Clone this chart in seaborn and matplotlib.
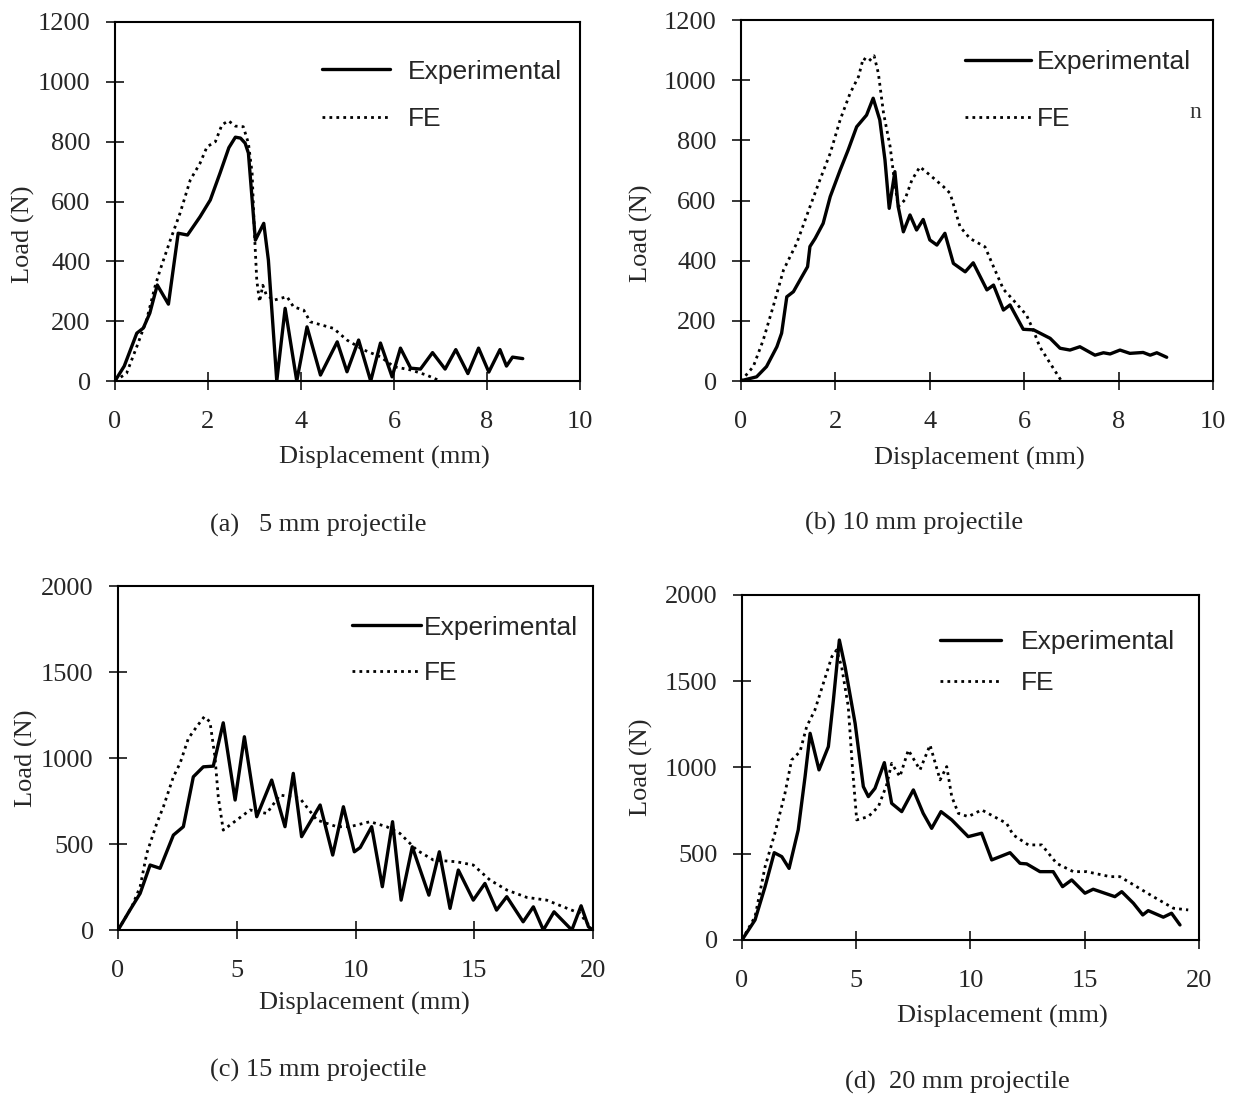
import numpy as np
import pandas as pd
import matplotlib
matplotlib.use("Agg")
import matplotlib.pyplot as plt
import seaborn as sns

# ---------------- data ----------------
a_exp_x = [0, 0.2, 0.47, 0.61, 0.75, 0.91, 1.15, 1.36, 1.56, 1.83, 2.05, 2.26, 2.45, 2.59, 2.7, 2.8, 2.87, 3.02, 3.2, 3.3,
           3.48, 3.66, 3.91, 4.13, 4.42, 4.78, 4.99, 5.24, 5.5, 5.71, 5.96, 6.14, 6.36, 6.57, 6.83, 7.1, 7.33, 7.59, 7.82,
           8.04, 8.28, 8.42, 8.55, 8.77]
a_exp_y = [0, 50, 160, 177, 227, 321, 257, 494, 488, 549, 605, 695, 780, 815, 812, 795, 762, 471, 527, 404,
           0, 243, 0, 181, 20, 131, 31, 137, 0, 127, 14, 110, 43, 40, 95, 40, 105, 25, 110,
           30, 105, 50, 80, 75]
a_fe_x = [0, 0.25, 0.47, 0.68, 0.86, 0.97, 1.19, 1.4, 1.62, 1.83, 1.98, 2.16, 2.3, 2.44, 2.59, 2.76, 2.87, 2.95, 3.0,
          3.05, 3.11, 3.18, 3.25, 3.41, 3.7, 3.84, 4.06, 4.2, 4.7, 4.99, 5.35, 5.71, 6.0, 6.36, 6.7, 7.0]
a_fe_y = [0, 26, 115, 204, 315, 371, 471, 561, 672, 728, 783, 800, 856, 870, 852, 850, 795, 695, 494,
          337, 265, 320, 290, 270, 282, 248, 237, 198, 176, 137, 104, 81, 48, 37, 20, 0]

b_exp_x = [0, 0.05, 0.33, 0.54, 0.76, 0.86, 0.97, 1.11, 1.29, 1.41, 1.46, 1.57, 1.74, 1.89, 2.1, 2.27, 2.45, 2.66, 2.8,
           2.94, 3.05, 3.14, 3.26, 3.33, 3.44, 3.58, 3.72, 3.86, 4.0, 4.15, 4.32, 4.5, 4.75, 4.92, 5.21, 5.35, 5.56,
           5.7, 5.98, 6.2, 6.55, 6.76, 6.97, 7.18, 7.5, 7.68, 7.82, 8.03, 8.24, 8.52, 8.67, 8.81, 9.02]
b_exp_y = [0, 3, 14, 48, 114, 159, 280, 297, 347, 380, 447, 474, 524, 613, 701, 768, 845, 884, 940,
           868, 735, 574, 696, 580, 496, 552, 502, 537, 469, 452, 491, 391, 363, 393, 303, 319, 236,
           253, 172, 170, 142, 109, 103, 114, 86, 94, 90, 103, 92, 95, 86, 94, 79]
b_fe_x = [0, 0.26, 0.47, 0.68, 0.9, 1.18, 1.46, 1.67, 1.89, 2.1, 2.31, 2.49, 2.59, 2.7, 2.82, 2.91, 3.02, 3.16, 3.23,
          3.33, 3.47, 3.62, 3.79, 4.0, 4.29, 4.43, 4.64, 4.85, 5.17, 5.35, 5.56, 5.77, 6.05, 6.19, 6.33, 6.55, 6.79]
b_fe_y = [0, 48, 136, 247, 369, 458, 579, 668, 757, 868, 956, 1012, 1073, 1062, 1081, 1023, 890, 779, 690,
          579, 602, 668, 712, 685, 646, 624, 513, 474, 446, 380, 305, 269, 219, 170, 114, 59, 0]

c_exp_x = [0, 0.5, 0.93, 1.35, 1.77, 2.33, 2.75, 3.17, 3.59, 4.01, 4.43, 4.93, 5.32, 5.84, 6.47, 7.03, 7.38, 7.73,
           8.51, 9.04, 9.49, 9.95, 10.2, 10.68, 11.13, 11.56, 11.92, 12.39, 13.09, 13.53, 13.98, 14.33, 14.96, 15.45,
           15.94, 16.37, 17.06, 17.49, 17.91, 18.36, 19.11, 19.5, 19.81, 20.0]
c_exp_y = [0, 116, 213, 378, 359, 552, 601, 891, 949, 953, 1205, 756, 1124, 659, 872, 601, 911, 543,
           727, 436, 717, 455, 480, 601, 252, 630, 174, 484, 203, 455, 126, 349, 174, 271,
           116, 194, 48, 135, 0, 106, 0, 141, 19, 0]
c_fe_x = [0, 0.58, 0.93, 1.21, 1.63, 1.91, 2.33, 2.61, 2.96, 3.31, 3.63, 3.87, 4.08, 4.22, 4.43, 5.0, 5.56, 6.26,
          6.82, 7.66, 8.37, 9.21, 9.77, 10.61, 11.31, 11.87, 12.58, 13.28, 14.26, 14.96, 15.66, 16.37, 17.21,
          18.05, 18.75, 19.45, 19.87]
c_fe_y = [0, 135, 252, 446, 620, 717, 891, 969, 1114, 1182, 1240, 1211, 1008, 775, 581, 640, 698, 678,
          785, 766, 640, 601, 601, 630, 601, 562, 465, 407, 397, 378, 291, 233, 190,
          174, 135, 97, 19]

d_exp_x = [0, 0.57, 1.01, 1.41, 1.74, 2.06, 2.46, 2.76, 2.98, 3.37, 3.78, 4.0, 4.26, 4.51, 4.95, 5.31, 5.53, 5.82,
           6.23, 6.55, 6.99, 7.5, 7.93, 8.3, 8.71, 9.18, 9.9, 10.49, 10.93, 11.73, 12.17, 12.46, 13.04, 13.62,
           14.03, 14.43, 15.01, 15.37, 16.32, 16.62, 17.13, 17.54, 17.78, 18.44, 18.8, 19.17]
d_exp_y = [0, 116, 309, 506, 483, 415, 638, 947, 1198, 986, 1121, 1391, 1739, 1584, 1256, 889, 831, 879,
           1028, 792, 744, 870, 734, 647, 744, 696, 599, 619, 464, 506, 444, 441, 396, 396,
           309, 348, 271, 294, 251, 280, 213, 145, 170, 132, 155, 87]
d_fe_x = [0, 0.57, 1.01, 1.44, 1.88, 2.17, 2.54, 2.83, 3.19, 3.56, 3.93, 4.14, 4.36, 4.65, 4.83, 5.02, 5.53, 5.97,
          6.33, 6.55, 6.91, 7.28, 7.79, 8.23, 8.67, 8.96, 9.18, 9.47, 9.9, 10.49, 11.58, 11.87, 12.53, 13.12,
          13.77, 14.5, 15.08, 16.11, 16.54, 17.27, 18.0, 18.88, 19.53]
d_fe_y = [0, 135, 425, 619, 850, 1043, 1092, 1237, 1333, 1488, 1642, 1681, 1584, 1353, 1005, 696, 715, 773,
          899, 1024, 947, 1101, 986, 1130, 928, 1005, 831, 734, 715, 754, 676, 609, 551, 551,
          444, 396, 396, 367, 367, 309, 251, 184, 174]

captions = ["(a)   5 mm projectile", "(b) 10 mm projectile", "(c) 15 mm projectile", "(d)  20 mm projectile"]
series_labels = ["Experimental", "FE"]
x_label = "Displacement (mm)"
y_label = "Load (N)"

# ---------------- style ----------------
sns.set_style("ticks")
plt.rcParams["font.family"] = ["Liberation Serif", "DejaVu Serif"]
plt.rcParams["axes.linewidth"] = 1.5

fig = plt.figure(figsize=(12.4, 11), dpi=100)

panels = [
    dict(rect=[0.0927, 0.6536, 0.375, 0.3264], exp=(a_exp_x, a_exp_y), fe=(a_fe_x, a_fe_y),
         xmax=10, xstep=2, ymax=1200, ystep=200,
         ylab=(-0.172, 0.41), xlab=(0.58, -0.182),
         leg=dict(anchor=(0.445, 0.895), hl=2.6, htp=0.65, ls=0.88)),
    dict(rect=[0.5976, 0.6536, 0.3806, 0.3282], exp=(b_exp_x, b_exp_y), fe=(b_fe_x, b_fe_y),
         xmax=10, xstep=2, ymax=1200, ystep=200,
         ylab=(-0.186, 0.41), xlab=(0.506, -0.182),
         leg=dict(anchor=(0.475, 0.917), hl=2.5, htp=0.2, ls=1.25)),
    dict(rect=[0.0952, 0.1545, 0.383, 0.3127], exp=(c_exp_x, c_exp_y), fe=(c_fe_x, c_fe_y),
         xmax=20, xstep=5, ymax=2000, ystep=500,
         ylab=(-0.168, 0.5), xlab=(0.518, -0.18),
         leg=dict(anchor=(0.493, 0.914), hl=2.6, htp=0.1, ls=0.8)),
    dict(rect=[0.5984, 0.1455, 0.3685, 0.3136], exp=(d_exp_x, d_exp_y), fe=(d_fe_x, d_fe_y),
         xmax=20, xstep=5, ymax=2000, ystep=500,
         ylab=(-0.195, 0.5), xlab=(0.569, -0.188),
         leg=dict(anchor=(0.433, 0.899), hl=2.3, htp=0.77, ls=0.65)),
]

for p in panels:
    ax = fig.add_axes(p["rect"])
    df_exp = pd.DataFrame({"x": p["exp"][0], "y": p["exp"][1]})
    df_fe = pd.DataFrame({"x": p["fe"][0], "y": p["fe"][1]})
    sns.lineplot(data=df_exp, x="x", y="y", ax=ax, color="black", linewidth=2.4,
                 sort=False, estimator=None, label=series_labels[0],
                 solid_joinstyle="round", solid_capstyle="round")
    sns.lineplot(data=df_fe, x="x", y="y", ax=ax, color="black", linewidth=2.0,
                 linestyle=(0, (1.0, 1.5)), sort=False, estimator=None, label=series_labels[1])
    ax.set_xlim(0, p["xmax"])
    ax.set_ylim(0, p["ymax"])
    ax.set_xticks(np.arange(0, p["xmax"] + 0.1, p["xstep"]))
    ax.set_yticks(np.arange(0, p["ymax"] + 1, p["ystep"]))
    ax.tick_params(axis="both", direction="inout", length=13, width=1.1, labelsize=19, color="black")
    ax.tick_params(axis="y", pad=11)
    ax.tick_params(axis="x", pad=15)
    for s in ax.spines.values():
        s.set_visible(True)
        s.set_linewidth(1.5)
        s.set_color("black")
    ax.set_xlabel(x_label, fontsize=19)
    ax.set_ylabel(y_label, fontsize=19)
    ax.yaxis.set_label_coords(*p["ylab"])
    ax.xaxis.set_label_coords(*p["xlab"])
    lg = p["leg"]
    ax.legend(loc="upper left", bbox_to_anchor=lg["anchor"], frameon=False, borderpad=0, borderaxespad=0,
              handlelength=lg["hl"], handletextpad=lg["htp"], labelspacing=lg["ls"],
              prop=dict(family="Liberation Sans", size=19))
    p["ax"] = ax

# stray leftover glyph in panel (b)
panels[1]["ax"].text(0.962, 0.745, "n", transform=panels[1]["ax"].transAxes, fontsize=17,
                     ha="center", va="center", color="#333333")

# captions
fig.text(210 / 1240, 1 - 525 / 1100, captions[0], fontsize=19, ha="left", va="center")
fig.text(805 / 1240, 1 - 523 / 1100, captions[1], fontsize=19, ha="left", va="center")
fig.text(210 / 1240, 1 - 1070 / 1100, captions[2], fontsize=19, ha="left", va="center")
fig.text(845 / 1240, 1 - 1082 / 1100, captions[3], fontsize=19, ha="left", va="center")

fig.savefig("out.png", dpi=100, facecolor="white")
